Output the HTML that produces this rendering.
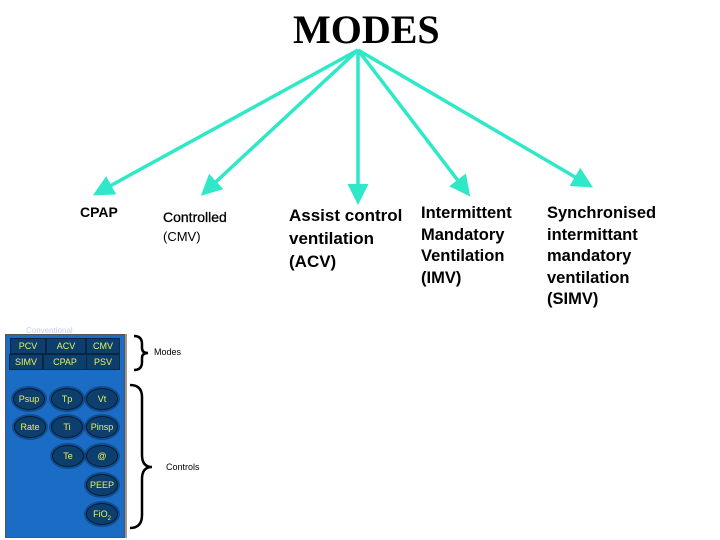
<!DOCTYPE html>
<html><head><style>
body{margin:0;width:720px;height:540px;background:#fff;position:relative;overflow:hidden;font-family:"Liberation Sans",sans-serif}
.t{position:absolute;font-weight:bold;color:#000;white-space:nowrap}
.b{position:absolute;background:#0d3f6e;border:1px solid #0a2540;color:#e8f060;font-size:9px;text-align:center;line-height:14px;height:14px}
.o{position:absolute;width:30px;height:20px;border-radius:50%;background:#0d3f6e;border:1px solid #041a30;color:#e8f060;font-size:9px;text-align:center;line-height:20px;box-shadow:0 0 0 2px rgba(0,20,50,.35)}
</style></head><body>
<div class="t" style="left:293px;top:6px;font-family:'Liberation Serif',serif;font-size:40px;">MODES</div>
<svg width="720" height="540" style="position:absolute;left:0;top:0">
<defs><marker id="a" markerWidth="6" markerHeight="6" refX="4" refY="3" orient="auto"><path d="M0,0L6,3L0,6z" fill="#2ee8c8"/></marker></defs>
<g stroke="#2ee8c8" stroke-width="3.5" fill="none" marker-end="url(#a)">
<line x1="358" y1="50" x2="99" y2="192"/>
<line x1="358" y1="50" x2="206" y2="191"/>
<line x1="358" y1="50" x2="358" y2="198"/>
<line x1="358" y1="50" x2="466" y2="191"/>
<line x1="358" y1="50" x2="587" y2="184"/>
</g>
<path d="M134,336 Q142,336 142,344 L142,348 Q142,353 148,353 Q142,353 142,358 L142,362 Q142,370 134,370" stroke="#000" stroke-width="2.5" fill="none"/>
<path d="M130,385 Q142,385 142,397 L142,455 Q142,467 152,467 Q142,467 142,479 L142,515 Q142,528 130,528" stroke="#000" stroke-width="2.5" fill="none"/>
</svg>
<div class="t" style="left:80px;top:204px;font-size:14px">CPAP</div>
<div class="t" style="left:163px;top:209px;font-size:14px;font-weight:normal;-webkit-text-stroke:.3px #000">Controlled</div>
<div class="t" style="left:163px;top:229px;font-size:13px;font-weight:normal">(CMV)</div>
<div class="t" style="left:289px;top:204px;font-size:17px;line-height:23px">Assist control<br>ventilation<br>(ACV)</div>
<div class="t" style="left:421px;top:203px;font-size:16.5px;line-height:21.5px">Intermittent<br>Mandatory<br>Ventilation<br>(IMV)</div>
<div class="t" style="left:547px;top:203px;font-size:16.5px;line-height:21.5px">Synchronised<br>intermittant<br>mandatory<br>ventilation<br>(SIMV)</div>
<div style="position:absolute;left:26px;top:326px;font-size:8px;color:#ccd">Conventional</div>
<div style="position:absolute;left:5px;top:334px;width:118px;height:202px;background:#1a6cc4;border:1px solid #555;box-shadow:2px 0 0 #999"></div>
<div class="b" style="left:10px;top:338px;width:34px">PCV</div>
<div class="b" style="left:46px;top:338px;width:38px">ACV</div>
<div class="b" style="left:86px;top:338px;width:32px">CMV</div>
<div class="b" style="left:9px;top:354px;width:32px">SIMV</div>
<div class="b" style="left:43px;top:354px;width:42px">CPAP</div>
<div class="b" style="left:86px;top:354px;width:32px">PSV</div>
<div class="o" style="left:13px;top:388px">Psup</div>
<div class="o" style="left:51px;top:388px">Tp</div>
<div class="o" style="left:86px;top:388px">Vt</div>
<div class="o" style="left:14px;top:416px">Rate</div>
<div class="o" style="left:51px;top:416px">Ti</div>
<div class="o" style="left:86px;top:416px">Pinsp</div>
<div class="o" style="left:52px;top:445px">Te</div>
<div class="o" style="left:86px;top:445px">@</div>
<div class="o" style="left:86px;top:474px">PEEP</div>
<div class="o" style="left:86px;top:503px">FiO<sub style="font-size:6px">2</sub></div>
<div style="position:absolute;left:154px;top:347px;font-size:9px">Modes</div>
<div style="position:absolute;left:166px;top:462px;font-size:9px">Controls</div>
</body></html>
